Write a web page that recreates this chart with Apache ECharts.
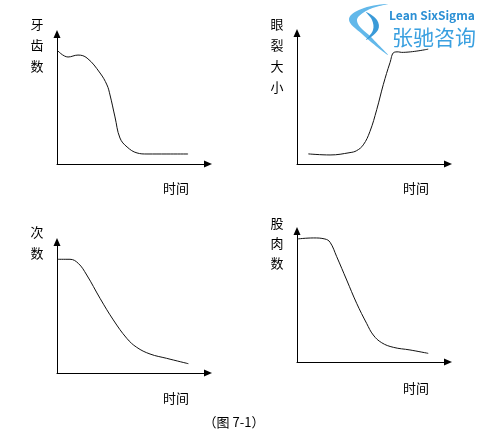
<!DOCTYPE html>
<html><head><meta charset="utf-8">
<script src="https://cdn.jsdelivr.net/npm/echarts@6/dist/echarts.min.js"></script>
<style>html,body{margin:0;padding:0;background:#fff}#c{width:483px;height:438px}</style>
</head><body><div id="c"></div>
<script>
// Normalised time (0-100) and value (0-100) readings for each panel
const teethX = [0, 7.3, 13.9, 19.9, 28.5, 33.1, 35.1, 38.4, 41.7, 46.4, 53, 59.6, 72.8, 86.8];
const teethY = [87.7, 82.3, 83.8, 81.5, 70, 60.8, 53.1, 36.2, 20, 13.1, 8.5, 7.7, 7.7, 7.7];
const eyeX = [7.5, 21.9, 35.1, 39.5, 43.9, 48.3, 52.8, 57.2, 61.6, 64.2, 67.1, 69.3, 86.9];
const eyeY = [7.7, 6.9, 8.7, 10.2, 14.6, 24.8, 41.5, 60.8, 77.4, 85.2, 85.6, 85.2, 87.7];
const countX = [0, 8.6, 14.1, 19.7, 28.5, 37.3, 46.2, 52.8, 61.6, 72.6, 87];
const countY = [86.8, 86.8, 83.7, 74.8, 57, 40.5, 26.5, 19.6, 14.5, 11.2, 7.1];
const muscleX = [0, 10.8, 18.5, 21.9, 26.3, 32.9, 39.5, 46.1, 50.5, 56.1, 63.8, 74.8, 86.9];
const muscleY = [93.9, 94.7, 93.9, 91.4, 80.4, 62.6, 44.8, 29.5, 20.6, 14.7, 11.2, 9.2, 6.6];
const yLabels = ['牙齿数', '眼裂大小', '次数', '股肉数'];
const xLabel = '时间';
const caption = '（图 7-1）';

const pairs = (xs, ys) => xs.map((x, i) => [x, ys[i]]);
const chart = echarts.init(document.getElementById('c'));
const grids = [
  {left: 57, top: 34, width: 151, height: 130},
  {left: 297, top: 33, width: 151, height: 131},
  {left: 57, top: 242, width: 151, height: 131},
  {left: 297, top: 231, width: 151, height: 131}
];
const axisCommon = {
  type: 'value', min: 0, max: 100,
  axisLine: {show: true, lineStyle: {color: '#000', width: 1}, symbol: ['none', 'triangle'], symbolSize: [7, 8]},
  axisTick: {show: false}, axisLabel: {show: false}, splitLine: {show: false}
};
const data = [pairs(teethX, teethY), pairs(eyeX, eyeY), pairs(countX, countY), pairs(muscleX, muscleY)];
const font = '"Noto Sans CJK SC", sans-serif';
const lbl = (text, x, y, lh) => ({type: 'text', x: x, y: y, style: {text: text.split('').join('\n'), fill: '#000', font: '13px ' + font, textAlign: 'center', lineHeight: lh}});
const tx = (text, x, y, size, color, weight) => ({type: 'text', x: x, y: y, style: {text: text, fill: color || '#000', font: (weight || 'normal') + ' ' + size + 'px ' + font, textAlign: 'center', textVerticalAlign: 'middle'}});
chart.setOption({
  animation: false,
  grid: grids,
  xAxis: grids.map((g, i) => Object.assign({gridIndex: i}, axisCommon)),
  yAxis: grids.map((g, i) => Object.assign({gridIndex: i}, axisCommon)),
  series: data.map((d, i) => ({type: 'line', xAxisIndex: i, yAxisIndex: i, data: d, smooth: 0.4, symbol: 'none', lineStyle: {color: '#111', width: 1}})),
  graphic: [
    lbl(yLabels[0], 37, 14, 21),
    lbl(yLabels[1], 277, 14, 21),
    lbl(yLabels[2], 37, 222, 21),
    lbl(yLabels[3], 277, 213, 20),
    tx(xLabel, 176, 188, 13), tx(xLabel, 416, 188, 13), tx(xLabel, 176, 398, 13), tx(xLabel, 416, 388, 13),
    tx(caption, 234, 422, 13),
    {type: 'polygon', shape: {points: [[388, 4], [364, 8], [349, 19], [362, 34], [388, 55], [372, 38], [357, 21], [368, 10]], smooth: 0.4}, style: {fill: '#62b8ea'}},
    {type: 'polygon', shape: {points: [[366, 12], [377, 20], [378, 30], [366, 40], [373, 30], [372, 20]], smooth: 0.4}, style: {fill: '#3a9ad8'}},
    tx('Lean SixSigma', 432, 15, 12, '#2b8fd4', 'bold'),
    tx('张驰咨询', 434, 37, 21, '#3aa0e0')
  ]
});
</script></body></html>
